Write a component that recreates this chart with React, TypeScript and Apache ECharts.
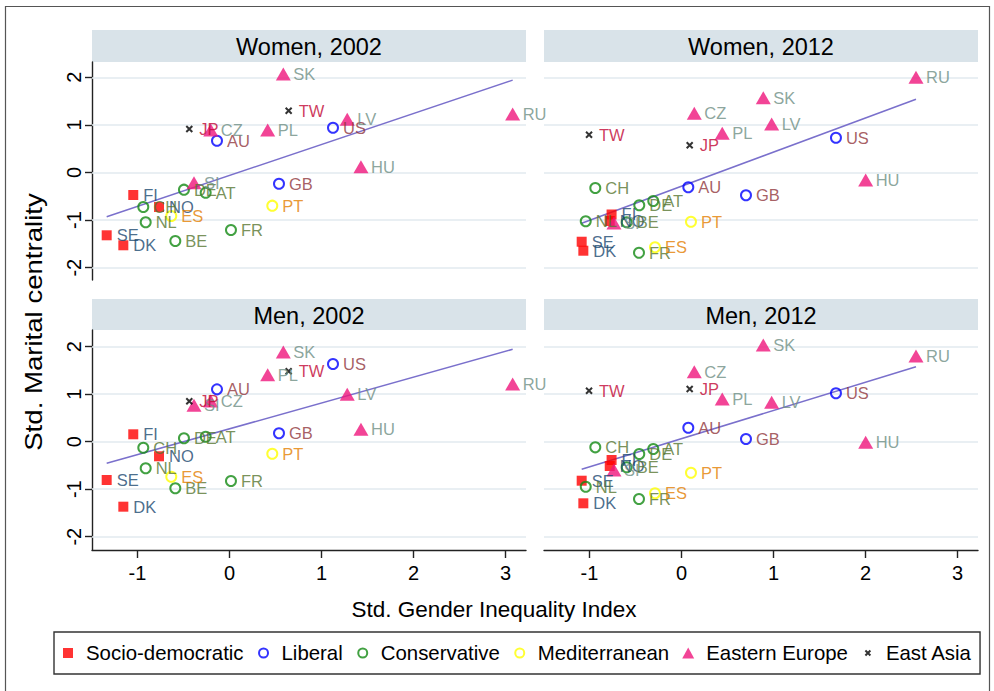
import React, { useEffect, useRef } from 'react';
import * as echarts from 'echarts';

// ---------- data ----------
const codes = ['FI', 'NO', 'SE', 'DK', 'AU', 'US', 'GB', 'DE', 'AT', 'CH', 'NL', 'BE', 'FR', 'ES', 'PT', 'SK', 'CZ', 'PL', 'LV', 'HU', 'RU', 'SI', 'JP', 'TW'];
const groupIndex = [0, 0, 0, 0, 1, 1, 1, 2, 2, 2, 2, 2, 2, 3, 3, 4, 4, 4, 4, 4, 4, 4, 5, 5];
const groups = ['Socio-democratic', 'Liberal', 'Conservative', 'Mediterranean', 'Eastern Europe', 'East Asia'];

// Std. Gender Inequality Index (x)
const gii2002 = [-1.046, -0.766, -1.335, -1.154, -0.136, 1.125, 0.538, -0.495, -0.259, -0.937, -0.911, -0.589, 0.016, -0.633, 0.465, 0.585, -0.204, 0.415, 1.28, 1.429, 3.078, -0.386, -0.437, 0.643];
const gii2012 = [-0.76, -0.78, -1.085, -1.067, 0.074, 1.679, 0.701, -0.459, -0.307, -0.937, -1.041, -0.596, -0.462, -0.288, 0.103, 0.889, 0.139, 0.443, 0.98, 2.002, 2.549, -0.734, 0.089, -1.005];

// Std. Marital centrality (y)
const women2002 = [-0.473, -0.725, -1.319, -1.529, 0.668, 0.941, -0.235, -0.361, -0.424, -0.725, -1.046, -1.439, -1.208, -0.914, -0.697, 2.069, 0.893, 0.893, 1.118, 0.122, 1.229, -0.214, 0.914, 1.298];
const men2002 = [0.156, -0.307, -0.806, -1.368, 1.103, 1.636, 0.177, 0.072, 0.105, -0.126, -0.56, -0.981, -0.827, -0.737, -0.253, 1.888, 0.857, 1.411, 0.998, 0.261, 1.215, 0.766, 0.851, 1.482];
const women2012 = [-0.882, -1.019, -1.454, -1.643, -0.311, 0.731, -0.479, -0.689, -0.599, -0.326, -1.025, -1.046, -1.685, -1.571, -1.034, 1.571, 1.244, 0.824, 1.019, -0.158, 2.0, -1.061, 0.571, 0.794];
const men2012 = [-0.385, -0.512, -0.821, -1.297, 0.295, 1.019, 0.057, -0.259, -0.154, -0.118, -0.947, -0.539, -1.206, -1.086, -0.653, 2.036, 1.474, 0.899, 0.829, -0.013, 1.804, -0.596, 1.109, 1.074];

// linear fit end points
const fitX2002 = [-1.335, 3.078];
const fitX2012 = [-1.085, 2.549];
const fitWomen2002 = [-0.93, 1.94];
const fitMen2002 = [-0.455, 1.945];
const fitWomen2012 = [-1.067, 1.538];
const fitMen2012 = [-0.581, 1.579];

const panelTitles = ['Women, 2002', 'Women, 2012', 'Men, 2002', 'Men, 2012'];
const xTicks = [-1, 0, 1, 2, 3];
const yTicks = [-2, -1, 0, 1, 2];
const xTitle = 'Std. Gender Inequality Index';
const yTitle = 'Std. Marital centrality';

// ---------- styles ----------
const FONT = '"Liberation Sans", Arial, Helvetica, sans-serif';
const markerColors = ['#ff0000', '#0000ff', '#138a13', '#ffff00', '#ef157c', '#000000'];
const labelColors = ['#1a476f', '#90353b', '#55752f', '#e37e00', '#6e8e84', '#c10534'];
const STRIP = '#d9e3e9';
const GRIDLINE = '#e2eaef';
const AXIS = '#222222';
const FIT = '#7a70cc';
const CROSS = 'path://M0,0L10,10M10,0L0,10';

const panels = [
  { xs: gii2002, ys: women2002, fx: fitX2002, fy: fitWomen2002, left: 92, top: 62, height: 218, ymin: -2.258, ymax: 2.321, showY: true, showX: false },
  { xs: gii2012, ys: women2012, fx: fitX2012, fy: fitWomen2012, left: 544, top: 62, height: 218, ymin: -2.258, ymax: 2.321, showY: false, showX: false },
  { xs: gii2002, ys: men2002, fx: fitX2002, fy: fitMen2002, left: 92, top: 330, height: 220, ymin: -2.28, ymax: 2.352, showY: true, showX: true },
  { xs: gii2012, ys: men2012, fx: fitX2012, fy: fitMen2012, left: 544, top: 330, height: 220, ymin: -2.28, ymax: 2.352, showY: false, showX: true },
];
const PANEL_W = 434;
const XMIN = -1.4946;
const XMAX = 3.223;

function markerStyle(g: number) {
  if (g === 0) return { symbol: 'rect', symbolSize: 10, itemStyle: { color: markerColors[0] }, distance: 5 };
  if (g >= 1 && g <= 3)
    return { symbol: 'circle', symbolSize: 10, itemStyle: { color: 'rgba(0,0,0,0)', borderColor: markerColors[g], borderWidth: 2 }, distance: 4 };
  if (g === 4) return { symbol: 'triangle', symbolSize: [15, 13], itemStyle: { color: markerColors[4] }, distance: 2.5 };
  return { symbol: CROSS, symbolSize: 6, itemStyle: { color: 'rgba(0,0,0,0)', borderColor: '#000', borderWidth: 2 }, distance: 6 };
}

const legendIcons = [
  { icon: 'path://M0,0M12,12M1,1H11V11H1Z', itemStyle: { color: markerColors[0], borderWidth: 0 } },
  { icon: 'path://M0,0M12,12M1.5,6A4.5,4.5 0 1,0 10.5,6A4.5,4.5 0 1,0 1.5,6Z', itemStyle: { color: 'rgba(0,0,0,0)', borderColor: markerColors[1], borderWidth: 2 } },
  { icon: 'path://M0,0M12,12M1.5,6A4.5,4.5 0 1,0 10.5,6A4.5,4.5 0 1,0 1.5,6Z', itemStyle: { color: 'rgba(0,0,0,0)', borderColor: markerColors[2], borderWidth: 2 } },
  { icon: 'path://M0,0M12,12M1.5,6A4.5,4.5 0 1,0 10.5,6A4.5,4.5 0 1,0 1.5,6Z', itemStyle: { color: 'rgba(0,0,0,0)', borderColor: markerColors[3], borderWidth: 2 } },
  { icon: 'path://M0,0M12,12M6,0.5L12,11.5H0Z', itemStyle: { color: markerColors[4], borderWidth: 0 } },
  { icon: 'path://M0,0M12,12M3.5,3.5L8.5,8.5M8.5,3.5L3.5,8.5', itemStyle: { color: 'rgba(0,0,0,0)', borderColor: '#000', borderWidth: 2 } },
];

function buildOption() {
  const grid: any[] = [];
  const xAxis: any[] = [];
  const yAxis: any[] = [];
  const series: any[] = [];
  const graphic: any[] = [];

  panels.forEach((p, i) => {
    grid.push({ left: p.left, top: p.top, width: PANEL_W, height: p.height });
    xAxis.push({
      gridIndex: i,
      type: 'value',
      min: XMIN,
      max: XMAX,
      show: p.showX,
      splitLine: { show: false },
      axisLine: { show: p.showX, onZero: false, lineStyle: { color: AXIS, width: 1.4 } },
      axisTick: { show: p.showX, length: 8, customValues: xTicks, lineStyle: { color: AXIS, width: 1.4 } },
      axisLabel: { show: p.showX, customValues: xTicks, margin: 13, fontSize: 20, color: '#000', fontFamily: FONT },
    });
    yAxis.push({
      gridIndex: i,
      type: 'value',
      min: p.ymin,
      max: p.ymax,
      show: p.showY,
      splitLine: { show: false },
      axisLine: { show: p.showY, onZero: false, lineStyle: { color: AXIS, width: 1.4 } },
      axisTick: { show: p.showY, length: 7, customValues: yTicks, lineStyle: { color: AXIS, width: 1.4 } },
      axisLabel: { show: p.showY, customValues: yTicks, rotate: 90, margin: 8, fontSize: 20, color: '#000', fontFamily: FONT },
    });

    // fit line (carries the horizontal grid lines as mark lines)
    series.push({
      name: 'fit' + i,
      type: 'line',
      xAxisIndex: i,
      yAxisIndex: i,
      data: [[p.fx[0], p.fy[0]], [p.fx[1], p.fy[1]]],
      showSymbol: false,
      symbol: 'none',
      z: 3,
      lineStyle: { color: FIT, width: 1.5 },
      silent: true,
      markLine: {
        silent: true,
        z: 1,
        symbol: ['none', 'none'],
        label: { show: false },
        lineStyle: { color: GRIDLINE, width: 1.6, type: 'solid' },
        data: yTicks.map((v) => ({ yAxis: v })),
      },
    });

    groups.forEach((gName, g) => {
      const ms = markerStyle(g);
      const data = codes
        .map((c, k) => (groupIndex[k] === g ? [p.xs[k], p.ys[k], c] : null))
        .filter((d) => d !== null);
      series.push({
        name: gName,
        type: 'scatter',
        xAxisIndex: i,
        yAxisIndex: i,
        z: 4,
        symbol: ms.symbol,
        symbolSize: ms.symbolSize,
        itemStyle: ms.itemStyle,
        data,
        label: {
          show: true,
          position: 'right',
          distance: ms.distance,
          formatter: (prm: any) => prm.value[2],
          color: labelColors[g],
          fontSize: 16.5,
          fontFamily: FONT,
        },
        emphasis: { disabled: true },
      });
    });

    // panel strip with title
    const stripTop = p.top === 62 ? 30 : 299;
    graphic.push({
      type: 'rect',
      shape: { x: p.left, y: stripTop, width: PANEL_W, height: p.top - stripTop },
      style: { fill: STRIP },
      silent: true,
    });
    graphic.push({
      type: 'text',
      x: p.left + PANEL_W / 2,
      y: (stripTop + p.top) / 2 + 1,
      style: { text: panelTitles[i], fontSize: 23.5, fontFamily: FONT, fill: '#000', align: 'center', verticalAlign: 'middle' },
      silent: true,
    });
  });

  graphic.push({
    type: 'text',
    x: 494,
    y: 609,
    style: { text: xTitle, fontSize: 22.5, fontFamily: FONT, fill: '#000', align: 'center', verticalAlign: 'middle' },
    silent: true,
  });
  graphic.push({
    type: 'text',
    x: 34,
    y: 322,
    rotation: Math.PI / 2,
    scaleX: 1.2,
    style: { text: yTitle, fontSize: 23, fontFamily: FONT, fill: '#000', align: 'center', verticalAlign: 'middle' },
    silent: true,
  });
  // outer frame of the figure
  graphic.push({
    type: 'rect',
    shape: { x: 5.5, y: 6.5, width: 984, height: 700 },
    style: { fill: 'none', stroke: '#555', lineWidth: 1.2 },
    silent: true,
    z: -1,
  });

  return {
    animation: false,
    backgroundColor: '#ffffff',
    textStyle: { fontFamily: FONT },
    grid,
    xAxis,
    yAxis,
    series,
    graphic,
    legend: {
      left: 54,
      top: 632,
      orient: 'horizontal',
      padding: [10, 8, 10, 8],
      itemGap: 13,
      itemWidth: 26,
      itemHeight: 12,
      selectedMode: false,
      borderColor: '#333',
      borderWidth: 1.4,
      textStyle: { fontSize: 20.4, color: '#000', fontFamily: FONT, lineHeight: 22 },
      data: groups.map((gName, g) => ({ name: gName, icon: legendIcons[g].icon, itemStyle: legendIcons[g].itemStyle })),
    },
  };
}

export default function App() {
  const ref = useRef<HTMLDivElement>(null);
  useEffect(() => {
    if (!ref.current) return;
    const chart = echarts.init(ref.current, undefined, { renderer: 'svg' });
    chart.setOption(buildOption() as any);
    return () => chart.dispose();
  }, []);
  return (
    <div
      ref={ref}
      style={{ position: 'absolute', left: 0, top: 0, width: 994, height: 691, background: '#fff' }}
    />
  );
}
